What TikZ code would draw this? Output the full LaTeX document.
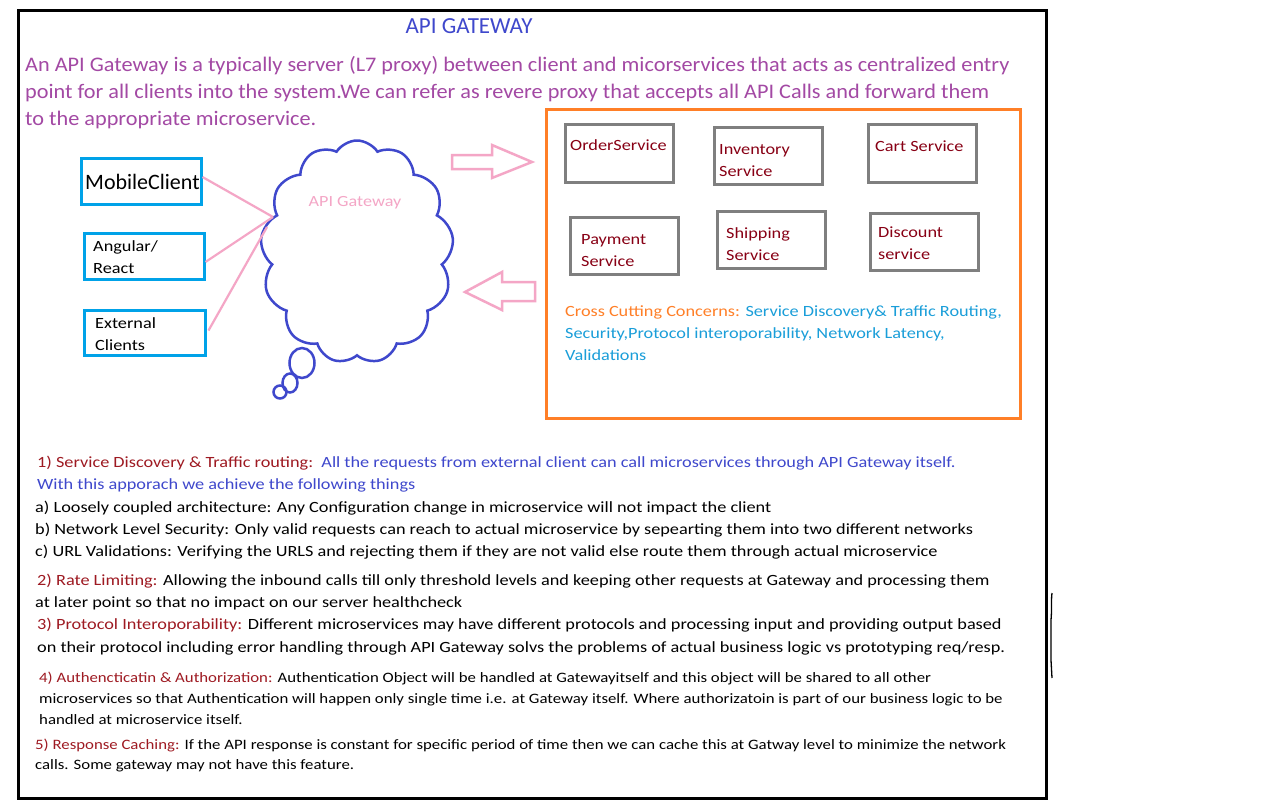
\documentclass[tikz,border=0pt]{standalone}
\usepackage{fontspec}
\setmainfont{Carlito}[FakeStretch=1.17]
\newfontfamily\plainfont{Carlito}
\newfontfamily\introfont{Carlito}[FakeStretch=1.075]
\usetikzlibrary{shapes.symbols}
\definecolor{pblue}{HTML}{3F48CC}
\definecolor{ppurple}{HTML}{A349A4}
\definecolor{pturq}{HTML}{00A2E8}
\definecolor{ppink}{HTML}{F4A6C6}
\definecolor{pdred}{HTML}{880015}
\definecolor{pred}{HTML}{9E1A22}
\definecolor{porange}{HTML}{FF7F27}
\definecolor{pgray}{HTML}{7F7F7F}
\definecolor{pcyan}{HTML}{1A9ED9}
\newcommand\fsTitle{\plainfont\fontsize{23}{26}\selectfont}
\newcommand\fsIntro{\introfont\fontsize{20.7}{24}\selectfont}
\newcommand\fsBody{\fontsize{15.6}{19}\selectfont}
\newcommand\fsSmall{\fontsize{14.35}{18}\selectfont}
\begin{document}
\begin{tikzpicture}[x=1pt,y=-1pt,
  txt/.style={inner sep=0pt, anchor=west, text height=12pt, text depth=0pt},
  bigtxt/.style={txt, text height=14.5pt},
  clientbox/.style={draw=pturq, line width=3pt, inner sep=0pt},
  svcbox/.style={draw=pgray, line width=3pt, inner sep=0pt},
  pinkline/.style={draw=ppink, line width=2.2pt},
  blockarrow/.style={draw=ppink, line width=2.5pt, line join=miter}]
\useasboundingbox[fill=white] (0,0) rectangle (1280,800);
% outer frame
\node[draw=black, line width=3pt, minimum width=1028pt, minimum height=787pt, inner sep=0pt] (frame) at (532,404.5) {};
% title
\node[bigtxt, anchor=center, text=pblue] (title) at (469,26) {\fsTitle API GATEWAY};
% intro
\node[bigtxt, text=ppurple] (i1) at (25,64) {\fsIntro An API Gateway is a typically server (L7 proxy) between client and micorservices that acts as centralized entry};
\node[bigtxt, text=ppurple] (i2) at (25,91) {\fsIntro point for all clients into the system.We can refer as revere proxy that accepts all API Calls and forward them};
\node[bigtxt, text=ppurple] (i3) at (25,118) {\fsIntro to the appropriate microservice.};
% clients
\node[clientbox, minimum width=120pt, minimum height=46pt] (mobile) at (141,181) {};
\node[bigtxt] (mobilet) at (85,182) {\plainfont\fontsize{22}{25}\selectfont MobileClient};
\node[clientbox, minimum width=120pt, minimum height=46pt] (angular) at (144,256) {};
\node[txt] (ang1) at (93,245) {\fsBody Angular/};
\node[txt] (ang2) at (93,267) {\fsBody React};
\node[clientbox, minimum width=121pt, minimum height=45pt] (external) at (144.5,332.5) {};
\node[txt] (ext1) at (95,322) {\fsBody External};
\node[txt] (ext2) at (95,344) {\fsBody Clients};
% cloud
\node[cloud, draw=pblue, line width=2.5pt, cloud puffs=13, cloud puff arc=115, minimum width=193pt, minimum height=223pt, inner sep=0pt] (gw) at (357,252) {};
\node[txt, anchor=center, text=ppink] (gwt) at (355,200) {\fontsize{15.5}{18}\selectfont API Gateway};
\draw[pblue, line width=2.5pt] (302,363) ellipse [x radius=12.5pt, y radius=15pt];
\draw[pblue, line width=2.5pt] (290,383) ellipse [x radius=7.5pt, y radius=9.5pt];
\draw[pblue, line width=2.5pt] (280,392) ellipse [x radius=6.5pt, y radius=6.5pt];
% connectors
\coordinate (cin) at (273,217);
\coordinate (cin3) at (267,227);
\draw[pinkline] ([yshift=4pt]mobile.east) -- (cin);
\draw[pinkline] ([yshift=-6pt]angular.east) -- (cin);
\draw[pinkline] ([xshift=2pt,yshift=2pt]external.east) -- (cin3);
% block arrows
\draw[blockarrow] (452,155) -- (492,155) -- (492,145) -- (532,162) -- (492,178) -- (492,169) -- (452,169) -- cycle;
\draw[blockarrow] (535,282) -- (502,282) -- (502,272) -- (465,292) -- (502,310) -- (502,301) -- (535,301) -- cycle;
% services container
\node[draw=porange, line width=3pt, minimum width=474pt, minimum height=309pt, inner sep=0pt] (svc) at (783,263.5) {};
\node[svcbox, minimum width=108pt, minimum height=58pt] (order) at (619,153) {};
\node[txt, text=pdred] (ordert) at (570,144) {\fsBody OrderService};
\node[svcbox, minimum width=108pt, minimum height=57pt] (inv) at (768,155.5) {};
\node[txt, text=pdred] (inv1) at (719,148) {\fsBody Inventory};
\node[txt, text=pdred] (inv2) at (719,170) {\fsBody Service};
\node[svcbox, minimum width=108pt, minimum height=58pt] (cart) at (922,153) {};
\node[txt, text=pdred] (cartt) at (875,145) {\fsBody Cart Service};
\node[svcbox, minimum width=108pt, minimum height=57pt] (pay) at (624,245.5) {};
\node[txt, text=pdred] (pay1) at (581,238) {\fsBody Payment};
\node[txt, text=pdred] (pay2) at (581,260) {\fsBody Service};
\node[svcbox, minimum width=108pt, minimum height=57pt] (ship) at (771,239.5) {};
\node[txt, text=pdred] (ship1) at (726,232) {\fsBody Shipping};
\node[txt, text=pdred] (ship2) at (726,254) {\fsBody Service};
\node[svcbox, minimum width=108pt, minimum height=57pt] (disc) at (924,241.5) {};
\node[txt, text=pdred] (disc1) at (878,231) {\fsBody Discount};
\node[txt, text=pdred] (disc2) at (878,253) {\fsBody service};
\node[txt, text=pcyan] (cc1) at (565,310) {\fsBody \textcolor{porange}{Cross Cutting Concerns:} Service Discovery\& Traffic Routing,};
\node[txt, text=pcyan] (cc2) at (565,332) {\fsBody Security,Protocol interoporability, Network Latency,};
\node[txt, text=pcyan] (cc3) at (565,354) {\fsBody Validations};
% bottom text
\node[txt, text=pblue] (b1) at (37,461) {\fsBody \textcolor{pred}{1) Service Discovery \& Traffic routing:}\ \ All the requests from external client can call microservices through API Gateway itself.};
\node[txt, text=pblue] (b2) at (37,483) {\fsBody With this apporach we achieve the following things};
\node[txt] (b3) at (35,506) {\fsBody a) Loosely coupled architecture: Any Configuration change in microservice will not impact the client};
\node[txt] (b4) at (35,528) {\fsBody b) Network Level Security: Only valid requests can reach to actual microservice by sepearting them into two different networks};
\node[txt] (b5) at (35,550) {\fsBody c) URL Validations: Verifying the URLS and rejecting them if they are not valid else route them through actual microservice};
\node[txt] (b6) at (37,579) {\fsBody \textcolor{pred}{2) Rate Limiting:} Allowing the inbound calls till only threshold levels and keeping other requests at Gateway and processing them};
\node[txt] (b7) at (35,601) {\fsBody at later point so that no impact on our server healthcheck};
\node[txt] (b8) at (37,623) {\fsBody \textcolor{pred}{3) Protocol Interoporability:} Different microservices may have different protocols and processing input and providing output based};
\node[txt] (b9) at (37,646) {\fsBody on their protocol including error handling through API Gateway solvs the problems of actual business logic vs prototyping req/resp.};
\node[txt] (b10) at (39,676) {\fsSmall \textcolor{pred}{4) Authencticatin \& Authorization:} Authentication Object will be handled at Gatewayitself and this object will be shared to all other};
\node[txt] (b11) at (39,697) {\fsSmall microservices so that Authentication will happen only single time i.e. at Gateway itself. Where authorizatoin is part of our business logic to be};
\node[txt] (b12) at (39,718) {\fsSmall handled at microservice itself.};
\node[txt] (b13) at (35,743) {\fsSmall \textcolor{pred}{5) Response Caching:} If the API response is constant for specific period of time then we can cache this at Gatway level to minimize the network};
\node[txt] (b14) at (35,763) {\fsSmall calls. Some gateway may not have this feature.};
% stray stroke
\draw[black, line width=1.3pt] (1052,593) .. controls (1051,600) and (1052,610) .. (1051,620) -- (1051,660) -- (1052,678);
\end{tikzpicture}
\end{document}
